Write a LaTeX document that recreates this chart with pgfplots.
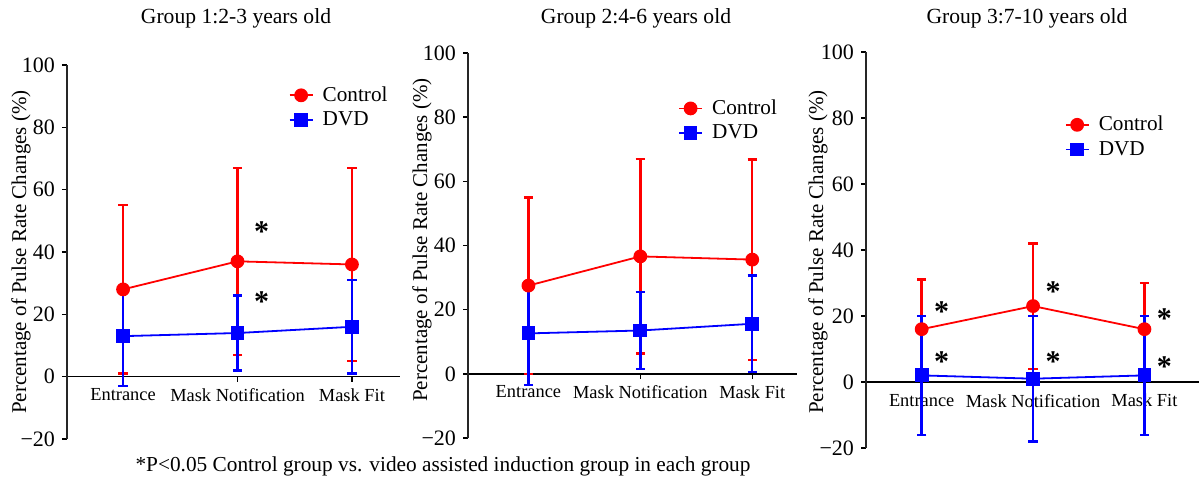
\documentclass[border=0pt]{standalone}
\usepackage{fontspec}
\setmainfont{Liberation Serif}
\usepackage{pgfplots}
\pgfplotsset{compat=1.18}
\definecolor{cred}{RGB}{255,0,0}
\definecolor{cblue}{RGB}{0,0,255}
\tikzset{sigstar/.style={font=\fontsize{15}{15}\selectfont\bfseries, yshift=-2pt, inner sep=0pt}}
\pgfplotsset{
  panel/.style={
    scale only axis, anchor=south west,
    axis y line=left, axis x line=middle,
    axis line style={-, black},
    y axis line style={line width=1pt, black!85},
    x axis line style={line width=0.7pt},
    ymin=-20, ymax=100,
    ytick={-20,0,20,40,60,80,100},
    yticklabels={−20,0,20,40,60,80,100},
    xtick={0,1,2},
    xticklabels={Entrance,Mask Notification,Mask Fit},
    tick align=outside,
    major tick length=2.5pt,
    tick style={black, line width=0.7pt},
    yticklabel style={font=\fontsize{11}{11}\selectfont},
    xticklabel style={font=\fontsize{9.2}{9.2}\selectfont},
    every error bar/.append style={line width=1.2pt},
    legend cell align=left,
    legend image code/.code={\draw[mark repeat=2,mark phase=2] plot coordinates {(0cm,0cm) (0.2cm,0cm) (0.4cm,0cm)}; \path (0.52cm,0cm);},
    legend style={draw=none, fill=none, anchor=west, inner sep=0pt,
      font=\fontsize{10.6}{12}\selectfont,
      nodes={text height=7.8pt, text depth=2pt, inner sep=1.25pt}},
  },
  ctrl/.style={cred, line width=0.9pt, mark=*, mark size=3pt,
    mark options={solid, fill=cred},
    error bars/.cd, y dir=both, y explicit,
    error bar style={line width=1.2pt, cred},
    error mark options={rotate=90, mark size=2.3pt, line width=1.2pt, cred}},
  dvd/.style={cblue, line width=0.9pt, mark=square*, mark size=3pt,
    mark options={solid, fill=cblue},
    error bars/.cd, y dir=both, y explicit,
    error bar style={line width=1.2pt, cblue},
    error mark options={rotate=90, mark size=2.3pt, line width=1.2pt, cblue}},
}
\begin{document}
\begin{tikzpicture}
\path[use as bounding box] (0,0) rectangle (600pt,250.5pt);

% Panel 1
\begin{axis}[panel, at={(33.5pt,31pt)}, width=166.5pt, height=187pt,
  xmin=-0.49, xmax=2.42,
  legend style={at={(0.665,0.886)}}]
\addplot+[ctrl] coordinates {(0,28) +- (0,27) (1,37) +- (0,30) (2,36) +- (0,31)};
\addlegendentry{Control}
\addplot+[dvd] coordinates {(0,13) +- (0,16) (1,14) +- (0,12) (2,16) +- (0,15)};
\addlegendentry{DVD}
\node[sigstar] at (axis cs:1.21,47.8) {*};
\node[sigstar] at (axis cs:1.21,25.3) {*};
\end{axis}

% Panel 2
\begin{axis}[panel, at={(234pt,31.5pt)}, width=164.5pt, height=192.5pt,
  xmin=-0.54, xmax=2.4,
  legend style={at={(0.638,0.824)}}]
\addplot+[ctrl] coordinates {(0,27.5) +- (0,27.5) (1,36.6) +- (0,30.3) (2,35.6) +- (0,31.2)};
\addlegendentry{Control}
\addplot+[dvd] coordinates {(0,12.6) +- (0,16) (1,13.5) +- (0,12) (2,15.6) +- (0,15)};
\addlegendentry{DVD}
\end{axis}

% Panel 3
\begin{axis}[panel, at={(433pt,26.5pt)}, width=166.5pt, height=198pt,
  xmin=-0.5, xmax=2.49,
  legend style={at={(0.596,0.785)}}]
\addplot+[ctrl] coordinates {(0,16) +- (0,15) (1,23) +- (0,19) (2,16) +- (0,14)};
\addlegendentry{Control}
\addplot+[dvd] coordinates {(0,2) +- (0,18) (1,1) +- (0,19) (2,2) +- (0,18)};
\addlegendentry{DVD}
\node[sigstar] at (axis cs:0.18,22.4) {*};
\node[sigstar] at (axis cs:0.18,7.3) {*};
\node[sigstar] at (axis cs:1.18,28.5) {*};
\node[sigstar] at (axis cs:1.18,7.3) {*};
\node[sigstar] at (axis cs:2.18,20.3) {*};
\node[sigstar] at (axis cs:2.18,5.8) {*};
\end{axis}

% Titles
\node[font=\fontsize{10.8}{12}\selectfont] at (118pt,241.5pt) {Group 1:2-3 years old};
\node[font=\fontsize{10.8}{12}\selectfont] at (318pt,241.5pt) {Group 2:4-6 years old};
\node[font=\fontsize{10.8}{12}\selectfont] at (513.5pt,241.5pt) {Group 3:7-10 years old};

% Y labels
\node[rotate=90, font=\fontsize{10.5}{12}\selectfont] at (10.5pt,124.5pt) {Percentage of Pulse Rate Changes (\%)};
\node[rotate=90, font=\fontsize{10.5}{12}\selectfont] at (211pt,130.5pt) {Percentage of Pulse Rate Changes (\%)};
\node[rotate=90, font=\fontsize{10.5}{12}\selectfont] at (409pt,124.5pt) {Percentage of Pulse Rate Changes (\%)};

% Footnote
\node[font=\fontsize{10.65}{12}\selectfont] at (221.5pt,17.5pt) {*P<0.05 Control group vs. video assisted induction group in each group};
\end{tikzpicture}
\end{document}
